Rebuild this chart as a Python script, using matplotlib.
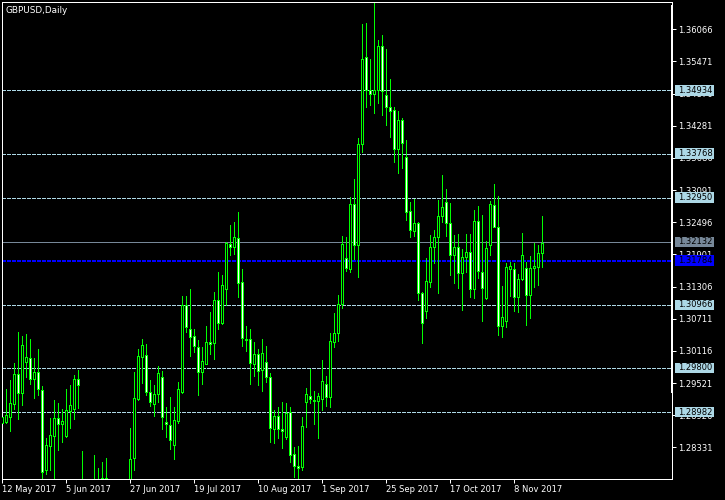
import matplotlib
matplotlib.use('Agg')
import matplotlib.pyplot as plt
from matplotlib.patches import Rectangle
from matplotlib.transforms import blended_transform_factory

# GBPUSD daily bars, oldest first (bar 0 = 12 May 2017)
opens = [1.2878, 1.2880, 1.2889, 1.2913, 1.2969, 1.2934, 1.2991, 1.2999, 1.2960, 1.2973,
         1.2939, 1.2791, 1.2836, 1.2854, 1.2888, 1.2877, 1.2854, 1.2901, 1.2904, 1.2960,
         1.2760, 1.2745, 1.2680, 1.2745, 1.2760, 1.2745, 1.2776, 1.2745, 1.2720, 1.2650,
         1.2670, 1.2710, 1.2725, 1.2813, 1.2923, 1.3000, 1.3004, 1.2936, 1.2913, 1.2932,
         1.2963, 1.2880, 1.2875, 1.2838, 1.2882, 1.2936, 1.3097, 1.3052, 1.3039, 1.3019,
         1.2973, 1.2988, 1.3028, 1.3026, 1.3106, 1.3063, 1.3126, 1.3210, 1.3204, 1.3221,
         1.3139, 1.3034, 1.3034, 1.2988, 1.3006, 1.2976, 1.2991, 1.2963, 1.2867, 1.2891,
         1.2867, 1.2852, 1.2899, 1.2821, 1.2799, 1.2797, 1.2917, 1.2928, 1.2921, 1.2919,
         1.2923, 1.2950, 1.2926, 1.3028, 1.3045, 1.3099, 1.3184, 1.3163, 1.3283, 1.3208,
         1.3395, 1.3555, 1.3494, 1.3487, 1.3494, 1.3576, 1.3485, 1.3463, 1.3457, 1.3385,
         1.3439, 1.3370, 1.3271, 1.3234, 1.3248, 1.3119, 1.3086, 1.3139, 1.3204, 1.3222,
         1.3261, 1.3287, 1.3248, 1.3189, 1.3204, 1.3156, 1.3185, 1.3195, 1.3126, 1.3252,
         1.3158, 1.3109, 1.3208, 1.3282, 1.3241, 1.3058, 1.3067, 1.3163, 1.3163, 1.3111,
         1.3145, 1.3165, 1.3115, 1.3165, 1.3167, 1.3193]
highs = [1.2897, 1.2941, 1.2958, 1.2989, 1.3047, 1.3039, 1.3043, 1.3034, 1.2999, 1.3015,
         1.2947, 1.2851, 1.2888, 1.2921, 1.2915, 1.2904, 1.2941, 1.2949, 1.2967, 1.2976,
         1.2827, 1.2770, 1.2760, 1.2818, 1.2795, 1.2806, 1.2814, 1.2755, 1.2740, 1.2680,
         1.2740, 1.2750, 1.2869, 1.2973, 1.3015, 1.3034, 1.3025, 1.2958, 1.2949, 1.2984,
         1.2975, 1.2908, 1.2926, 1.2908, 1.2954, 1.3113, 1.3113, 1.3126, 1.3052, 1.3032,
         1.3019, 1.3058, 1.3084, 1.3121, 1.3158, 1.3152, 1.3213, 1.3245, 1.3250, 1.3269,
         1.3163, 1.3058, 1.3052, 1.3028, 1.3015, 1.3034, 1.3021, 1.2971, 1.2902, 1.2908,
         1.2917, 1.2915, 1.2908, 1.2834, 1.2836, 1.2889, 1.2943, 1.2978, 1.2937, 1.2934,
         1.2995, 1.2965, 1.3045, 1.3082, 1.3115, 1.3224, 1.3222, 1.3296, 1.3330, 1.3406,
         1.3617, 1.3619, 1.3552, 1.3655, 1.3587, 1.3596, 1.3570, 1.3515, 1.3463, 1.3456,
         1.3443, 1.3402, 1.3287, 1.3293, 1.3250, 1.3121, 1.3184, 1.3226, 1.3235, 1.3291,
         1.3337, 1.3311, 1.3285, 1.3226, 1.3228, 1.3200, 1.3228, 1.3228, 1.3272, 1.3280,
         1.3263, 1.3215, 1.3289, 1.3321, 1.3298, 1.3132, 1.3174, 1.3176, 1.3174, 1.3154,
         1.3230, 1.3176, 1.3187, 1.3211, 1.3208, 1.3261]
lows = [1.2873, 1.2878, 1.2864, 1.2904, 1.2886, 1.2912, 1.2963, 1.2950, 1.2925, 1.2930,
        1.2777, 1.2784, 1.2791, 1.2777, 1.2828, 1.2843, 1.2853, 1.2869, 1.2886, 1.2906,
        1.2635, 1.2660, 1.2665, 1.2730, 1.2695, 1.2720, 1.2730, 1.2700, 1.2600, 1.2590,
        1.2660, 1.2690, 1.2700, 1.2791, 1.2921, 1.2952, 1.2930, 1.2910, 1.2891, 1.2917,
        1.2867, 1.2852, 1.2830, 1.2812, 1.2878, 1.2934, 1.3047, 1.3002, 1.3010, 1.2930,
        1.2950, 1.2987, 1.3006, 1.2997, 1.3052, 1.3062, 1.3097, 1.3189, 1.3191, 1.3111,
        1.3021, 1.3012, 1.2950, 1.2965, 1.2949, 1.2938, 1.2954, 1.2843, 1.2841, 1.2851,
        1.2832, 1.2849, 1.2806, 1.2778, 1.2775, 1.2791, 1.2871, 1.2915, 1.2877, 1.2851,
        1.2902, 1.2910, 1.2908, 1.3019, 1.3030, 1.3091, 1.3160, 1.3158, 1.3182, 1.3148,
        1.3380, 1.3463, 1.3467, 1.3452, 1.3470, 1.3448, 1.3430, 1.3407, 1.3361, 1.3341,
        1.3350, 1.3254, 1.3223, 1.3224, 1.3106, 1.3026, 1.3073, 1.3130, 1.3174, 1.3119,
        1.3250, 1.3224, 1.3152, 1.3137, 1.3128, 1.3087, 1.3158, 1.3111, 1.3109, 1.3147,
        1.3067, 1.3108, 1.3189, 1.3240, 1.3041, 1.3037, 1.3056, 1.3113, 1.3085, 1.3084,
        1.3143, 1.3060, 1.3073, 1.3130, 1.3134, 1.3167]
closes = [1.2889, 1.2893, 1.2915, 1.2969, 1.2934, 1.3023, 1.3000, 1.2960, 1.2973, 1.2941,
          1.2788, 1.2838, 1.2856, 1.2888, 1.2877, 1.2882, 1.2902, 1.2912, 1.2960, 1.2949,
          1.2745, 1.2680, 1.2745, 1.2760, 1.2745, 1.2776, 1.2745, 1.2720, 1.2650, 1.2670,
          1.2710, 1.2720, 1.2812, 1.2925, 1.3002, 1.3023, 1.2936, 1.2917, 1.2932, 1.2971,
          1.2889, 1.2877, 1.2847, 1.2884, 1.2941, 1.3097, 1.3056, 1.3037, 1.3021, 1.2973,
          1.2993, 1.3028, 1.3025, 1.3106, 1.3063, 1.3134, 1.3211, 1.3204, 1.3222, 1.3137,
          1.3036, 1.3032, 1.2989, 1.3006, 1.2975, 1.3008, 1.2963, 1.2869, 1.2891, 1.2867,
          1.2864, 1.2897, 1.2819, 1.2799, 1.2795, 1.2873, 1.2932, 1.2923, 1.2918, 1.2928,
          1.2956, 1.2926, 1.3030, 1.3045, 1.3099, 1.3210, 1.3165, 1.3283, 1.3208, 1.3395,
          1.3552, 1.3494, 1.3487, 1.3494, 1.3576, 1.3493, 1.3463, 1.3456, 1.3385, 1.3439,
          1.3396, 1.3269, 1.3235, 1.3248, 1.3119, 1.3063, 1.3141, 1.3204, 1.3222, 1.3261,
          1.3278, 1.3248, 1.3189, 1.3204, 1.3156, 1.3185, 1.3195, 1.3126, 1.3252, 1.3160,
          1.3128, 1.3202, 1.3283, 1.3241, 1.3058, 1.3074, 1.3167, 1.3169, 1.3111, 1.3145,
          1.3189, 1.3115, 1.3165, 1.3169, 1.3193, 1.3211]

date_bars = [0, 16, 32, 48, 64, 80, 96, 112, 128]
date_labels = ['12 May 2017', '5 Jun 2017', '27 Jun 2017', '19 Jul 2017', '10 Aug 2017',
               '1 Sep 2017', '25 Sep 2017', '17 Oct 2017', '8 Nov 2017']
price_ticks = [1.36066, 1.35471, 1.34876, 1.34281, 1.33686, 1.33091, 1.32496,
               1.31901, 1.31306, 1.30711, 1.30116, 1.29521, 1.28926, 1.28331]
levels = [1.34934, 1.33768, 1.32950, 1.30966, 1.29800, 1.28982]
bid_price = 1.32132
blue_level = 1.31784

GREEN = '#00ff00'
LEVEL_C = '#add8e6'
PX = 0.72  # one pixel in points at dpi 100

W, H = 725, 500
fig = plt.figure(figsize=(W / 100, H / 100), dpi=100, facecolor='black')
ax_l, ax_r, ax_t, ax_b = 2.3, 672.3, 2.3, 479.3
ax = fig.add_axes([ax_l / W, 1 - ax_b / H, (ax_r - ax_l) / W, (ax_b - ax_t) / H])
ax.set_facecolor('black')
ax.set_xlim(0, (ax_r - ax_l) / 4)
ax.set_ylim(1.27739, 1.36566)
y_per_px = (1.36566 - 1.27739) / (ax_b - ax_t)

# horizontal levels
for lv in levels:
    ax.axhline(lv, color=LEVEL_C, lw=PX, dashes=(3, 2), antialiased=False, zorder=1)
ax.axhline(bid_price, color='#778899', lw=PX, antialiased=False, zorder=1)
ax.axhline(blue_level, color='#0000ff', lw=2 * PX, dashes=(2, 1), antialiased=False, zorder=1)

# candles
xs = list(range(len(opens)))
ax.vlines(xs, lows, highs, colors=GREEN, lw=PX, antialiased=False, zorder=2)
for x, o, c in zip(xs, opens, closes):
    fc = 'white' if c < o else 'black'
    ax.add_patch(Rectangle((x - 0.25, min(o, c)), 0.5, abs(c - o), facecolor=fc,
                           edgecolor=GREEN, lw=PX, antialiased=False, zorder=3))

for sp in ax.spines.values():
    sp.set_color('white')
    sp.set_linewidth(PX)

ax.yaxis.tick_right()
ax.set_yticks(price_ticks)
ax.set_yticklabels(['%.5f' % p for p in price_ticks])
ax.tick_params(axis='y', colors='white', length=3, width=PX, labelsize=6, pad=1.5)
ax.set_xticks(date_bars)
ax.set_xticklabels(date_labels, ha='left')
ax.tick_params(axis='x', colors='white', length=3, width=PX, labelsize=6, pad=1)
for t in ax.get_xticklabels():
    t.set_x(t.get_position()[0])

# thicker part of the right border
fig.add_artist(plt.Line2D([ax_r / W, ax_r / W], [1 - 6 / H, 1 - 392 / H],
                          color='white', lw=2 * PX, antialiased=False))

# price labels on the right scale
tr = blended_transform_factory(fig.transFigure, ax.transData)
box_h = 10.7 * y_per_px
for price, fc, tc in ([(lv, LEVEL_C, 'black') for lv in levels]
                      + [(bid_price, '#778899', 'black'), (blue_level, '#0000ff', 'black')]):
    ax.add_patch(Rectangle((675 / W, price - box_h / 2), 39 / W, box_h, transform=tr,
                           facecolor=fc, edgecolor='none', clip_on=False, zorder=10))
    ax.text(678.5 / W, price, '%.5f' % price, transform=tr, color=tc, fontsize=6,
            va='center', ha='left', clip_on=False, zorder=11)

fig.text(6 / W, 1 - 10.5 / H, 'GBPUSD,Daily', color='white', fontsize=6.4, va='center', ha='left')

fig.savefig('out.png', dpi=100, facecolor='black')
